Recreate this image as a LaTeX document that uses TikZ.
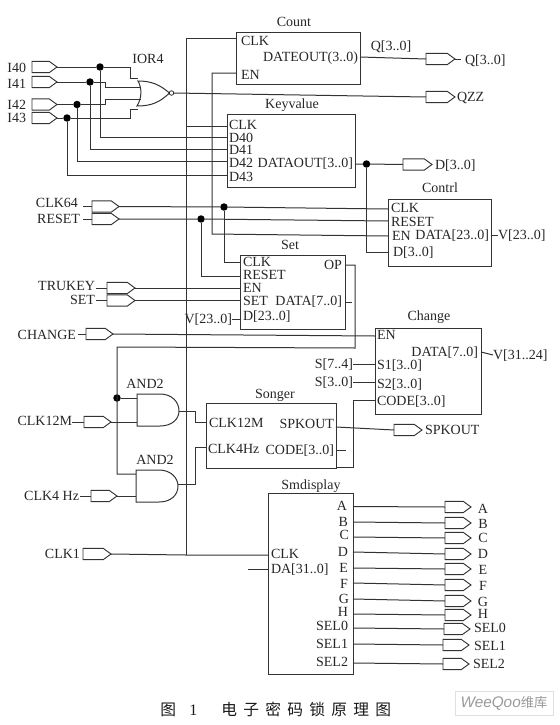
\documentclass[tikz,border=0pt]{standalone}
\usepackage{fontspec}
\setmainfont{Liberation Serif}
\newfontfamily\cjkf{Noto Sans CJK SC}
\newfontfamily\wmf{Liberation Sans}
\usetikzlibrary{shapes.symbols,calc}
\tikzset{
  wire/.style={draw=black!80,line width=0.75pt,line join=miter},
  blockbox/.style={draw=black!80,line width=0.75pt,rectangle,inner sep=0pt,outer sep=0pt},
  pinst/.style={draw=black!80,line width=0.7pt,shape=signal,signal to=east,signal pointer angle=72,inner sep=0pt,outer sep=0pt,minimum height=8.4pt,anchor=west},
  dotst/.style={circle,fill=black,inner sep=0pt,outer sep=0pt,minimum size=5.6pt},
  txt/.style={inner sep=0pt,outer sep=0pt,text height=6.8pt,text depth=0pt,font=\fontsize{10.5}{12}\selectfont,text=black!85},
  ltxt/.style={txt,anchor=west},
  rtxt/.style={txt,anchor=east},
  ctxt/.style={txt,anchor=center}
}
\newcommand{\blkx}[5]{\node[blockbox,minimum width={(#4-#2)*0.75pt},minimum height={(#5-#3)*0.75pt}] (#1) at ({(#2+#4)/2},{(#3+#5)/2}) {};}
\newcommand{\pinx}[4]{\node[pinst,minimum width={(#3-#2)*0.75pt}] (#1) at (#2,#4) {};}
\newcommand{\Ltx}[4]{\node[ltxt] (#1) at (#2,#3) {#4};}
\newcommand{\Rtx}[4]{\node[rtxt] (#1) at (#2,#3) {#4};}
\newcommand{\Ctx}[4]{\node[ctxt] (#1) at (#2,#3) {#4};}
\newcommand{\juncx}[3]{\node[dotst] (#1) at (#2,#3) {};}
\newcommand{\cpx}[3]{\coordinate (#1) at (#2,#3);}
\begin{document}
\begin{tikzpicture}[x=0.75pt,y=-0.75pt]
\useasboundingbox (0,0) rectangle (560,725);
% input pins
\pinx{pI40}{32}{57}{67}\Rtx{tI40}{26}{68}{I40}
\pinx{pI41}{32}{57}{82}\Rtx{tI41}{26}{84}{I41}
\pinx{pI42}{32}{57}{104.5}\Rtx{tI42}{26}{105}{I42}
\pinx{pI43}{32}{57}{118}\Rtx{tI43}{26}{118}{I43}
\pinx{pCLK64}{92}{119}{206.5}\Rtx{tCLK64}{78}{203}{CLK64}
\pinx{pRESET}{92}{119}{219}\Rtx{tRESET}{80}{219}{RESET}
\pinx{pTRUKEY}{107}{135}{288}\Rtx{tTRUKEY}{95}{286}{TRUKEY}
\pinx{pSET}{107}{135}{300.5}\Rtx{tSET}{95}{300}{SET}
\pinx{pCHANGE}{86}{113}{334}\Rtx{tCHANGE}{76}{335}{CHANGE}
\pinx{pCLK12}{84}{111}{422}\Rtx{tCLK12}{72}{421}{CLK12M}
\pinx{pCLK4}{91}{117}{496}\Rtx{tCLK4}{79}{496}{CLK4 Hz}
\pinx{pCLK1}{83}{111}{554}\Rtx{tCLK1}{80}{554}{CLK1}
% output pins
\pinx{pQ}{426}{455}{59}\Ltx{tQ}{465}{60}{Q[3..0]}
\pinx{pQZZ}{426}{455}{97}\Ltx{tQZZ}{457}{97}{QZZ}
\pinx{pD}{403}{432}{164.5}\Ltx{tD}{435}{165}{D[3..0]}
\pinx{pSPK}{394}{422}{430}\Ltx{tSPK}{425}{430}{SPKOUT}
\pinx{pA}{445}{471}{507}\Ctx{tA}{483}{509}{A}
\pinx{pB}{445}{471}{523}\Ctx{tB}{483}{524}{B}
\pinx{pC}{445}{471}{538}\Ctx{tC}{483}{538}{C}
\pinx{pDd}{445}{471}{554}\Ctx{tDd}{483}{554}{D}
\pinx{pE}{445}{471}{569}\Ctx{tE}{483}{570}{E}
\pinx{pF}{445}{471}{585}\Ctx{tF}{483}{586}{F}
\pinx{pG}{445}{471}{601}\Ctx{tG}{483}{602}{G}
\pinx{pH}{445}{471}{615}\Ctx{tH}{483}{614}{H}
\pinx{pS0}{444}{470}{629}\Ltx{tS0}{474}{628}{SEL0}
\pinx{pS1}{443}{469}{645}\Ltx{tS1}{474}{646}{SEL1}
\pinx{pS2}{443}{469}{664}\Ltx{tS2}{473}{664}{SEL2}
% blocks
\blkx{count}{236}{32}{360}{84}
\Ctx{tCount}{294}{22}{Count}
\Ltx{cCLK}{241}{41}{CLK}\Rtx{cOUT}{358}{57}{DATEOUT(3..0)}\Ltx{cEN}{241}{75}{EN}
\blkx{key}{227}{114}{355}{187}
\Ctx{tKey}{292}{104}{Keyvalue}
\Ltx{kCLK}{229}{125}{CLK}\Ltx{kD0}{229}{138}{D40}\Ltx{kD1}{229}{150}{D41}\Ltx{kD2}{229}{163}{D42}\Ltx{kD3}{229}{177}{D43}
\Rtx{kOUT}{353}{163}{DATAOUT[3..0]}
\blkx{ctr}{388}{199}{491}{266}
\Ctx{tCtr}{440}{188}{Contrl}
\Ltx{ctCLK}{391}{208}{CLK}\Ltx{ctRS}{391}{222}{RESET}\Ltx{ctEN}{392}{236}{EN}\Ltx{ctD}{393}{252}{D[3..0]}
\Rtx{ctOUT}{489}{235}{DATA[23..0]}\Ltx{ctV}{498}{235}{V[23..0]}
\blkx{set}{240}{255}{345}{329}
\Ctx{tSetb}{290}{245}{Set}
\Ltx{sCLK}{243}{262}{CLK}\Ltx{sRS}{243}{275}{RESET}\Ltx{sEN}{243}{288}{EN}\Ltx{sSET}{243}{301}{SET}\Ltx{sD}{243}{316}{D[23..0]}
\Rtx{sOP}{342}{265}{OP}\Rtx{sDATA}{342}{301}{DATA[7..0]}
\Rtx{tV23}{232}{319}{V[23..0]}
\blkx{chg}{375}{328}{481}{414}
\Ctx{tChg}{429}{316}{Change}
\Ltx{chEN}{377}{335}{EN}\Ltx{chS1}{377}{365}{S1[3..0]}\Ltx{chS2}{377}{384}{S2[3..0]}\Ltx{chC}{377}{401}{CODE[3..0]}
\Rtx{chD}{478}{352}{DATA[7..0]}\Ltx{chV}{493}{355}{V[31..24]}
\Rtx{tS74}{353}{364}{S[7..4]}\Rtx{tS30}{353}{382}{S[3..0]}
\blkx{son}{206}{403}{336}{468}
\Ctx{tSon}{275}{394}{Songer}
\Ltx{soA}{209}{423}{CLK12M}\Ltx{soB}{208}{449}{CLK4Hz}\Rtx{soC}{334}{424}{SPKOUT}\Rtx{soD}{334}{450}{CODE[3..0]}
\blkx{smd}{268}{493}{353}{674}
\Ctx{tSmd}{311}{485}{Smdisplay}
\Ltx{smC}{271}{554}{CLK}\Ltx{smD}{271}{569}{DA[31..0]}
\Rtx{mA}{347}{506}{A}\Rtx{mB}{348}{522}{B}\Rtx{mC}{349}{535}{C}\Rtx{mD}{348}{552}{D}\Rtx{mE}{348}{568}{E}\Rtx{mF}{348}{584}{F}\Rtx{mG}{349}{599}{G}\Rtx{mH}{348}{612}{H}
\Rtx{mS0}{348}{626}{SEL0}\Rtx{mS1}{348}{644}{SEL1}\Rtx{mS2}{348}{662}{SEL2}
% gates
\Ctx{tIOR}{148}{59}{IOR4}
\Ctx{tA1}{145}{384}{AND2}
\Ctx{tA2}{155}{460}{AND2}
\draw[wire] (138,81) .. controls (142,88) and (142,98) .. (137,106) .. controls (152,106) and (160,102) .. (169.5,93) .. controls (160,85) and (152,81) .. (138,81) -- cycle;
\node[draw=black!85,line width=0.6pt,circle,inner sep=0pt,outer sep=0pt,minimum size=3.4pt,fill=white] (nor) at (171.5,93) {};
\draw[wire] (137,394) -- (160,394) .. controls (172,394) and (179,402) .. (179,411) .. controls (179,419) and (172,426) .. (160,426) -- (137,426) -- cycle;
\draw[wire] (136,470) -- (159,470) .. controls (171,470) and (178,478) .. (178,486) .. controls (178,495) and (171,502) .. (159,502) -- (136,502) -- cycle;
\cpx{a1o}{179}{411}\cpx{a2o}{178}{484}
\cpx{a1i}{137}{398}\cpx{a1j}{137}{422}\cpx{a2i}{136}{474}\cpx{a2j}{136}{496}
% junctions
\juncx{j40}{100}{67}\juncx{j41}{90}{82}\juncx{j42}{77}{104.5}\juncx{j43}{67}{118}
\juncx{j64}{224}{207}\juncx{jRS}{201}{219}\juncx{jK}{366.5}{164}\juncx{jAnd}{117}{398}
% port coordinates
\cpx{n1}{138}{78}\cpx{n2}{140.5}{87}\cpx{n3}{141}{99}\cpx{n4}{137.5}{109}
\cpx{pcC}{236}{38}\cpx{pcE}{236}{73}\cpx{pkC}{227}{126}
\cpx{pk0}{227}{137}\cpx{pk1}{227}{149.5}\cpx{pk2}{227}{161.5}\cpx{pk3}{227}{175}
\cpx{pcO}{360}{57}\cpx{pkO}{355}{164}
\cpx{ptC}{388}{209}\cpx{ptR}{388}{221}\cpx{ptE}{388}{236}\cpx{ptD}{388}{252}
\cpx{psC}{240}{262}\cpx{psR}{240}{276}\cpx{psE}{240}{288}\cpx{psS}{240}{300.5}\cpx{psD}{240}{319}
\cpx{psO}{345}{265}\cpx{psA}{345}{302}
\cpx{phE}{375}{336}\cpx{ph1}{375}{364}\cpx{ph2}{375}{382}\cpx{ph3}{375}{400}
\cpx{poA}{206}{422}\cpx{poB}{206}{447}\cpx{poC}{336}{427}\cpx{poD}{336}{450}\cpx{poE}{336}{467}
\cpx{pmC}{268}{555}\cpx{pmD}{268}{569}
\cpx{busT}{186}{38}\cpx{busB}{186}{555}\cpx{busK}{186}{126}
% wires
\draw[wire] (pI40.east) -- (j40) -- (130,67) -- (130,78) -- (n1);
\draw[wire] (pI41.east) -- (j41) -- (105,82) -- (105,87) -- (n2);
\draw[wire] (pI42.east) -- (j42) -- (105,104.5) -- (105,99) -- (n3);
\draw[wire] (pI43.east) -- (j43) -- (130,118) -- (130,109) -- (n4);
\draw[wire] (j40) -- (100,137) -- (pk0);
\draw[wire] (j41) -- (90,149.5) -- (pk1);
\draw[wire] (j42) -- (77,161.5) -- (pk2);
\draw[wire] (j43) -- (67,175) -- (pk3);
\draw[wire] (pcC) -- (busT) -- (busB);
\draw[wire] (busK) -- (pkC);
\draw[wire] (pcE) -- (212,73) -- (212,234) -- (ptE);
\draw[wire] (nor.east) -- (pQZZ.west);
\draw[wire] (pcO) -- (pQ.west);
\draw[wire] (pQ.east) -- ++(6,0);
\Ctx{tQa}{391}{46}{Q[3..0]}
\draw[wire] (pkO) -- (jK) -- (pD.west);
\draw[wire] (jK) -- (366.5,252) -- (ptD);
\draw[wire] (pCLK64.west) -- ++(-9,0);
\draw[wire] (pRESET.west) -- ++(-9,0);
\draw[wire] (pTRUKEY.west) -- ++(-11,0);
\draw[wire] (pSET.west) -- ++(-11,0);
\draw[wire] (pCHANGE.west) -- ++(-8,0);
\draw[wire] (pCLK12.west) -- ++(-12,0);
\draw[wire] (pCLK4.west) -- ++(-11,0);
\draw[wire] (pCLK64.east) -- (j64) -- (ptC);
\draw[wire] (pRESET.east) -- (jRS) -- (ptR);
\draw[wire] (j64) -- (224,262) -- (psC);
\draw[wire] (jRS) -- (201,276) -- (psR);
\draw[wire] (pTRUKEY.east) -- (psE);
\draw[wire] (pSET.east) -- (psS);
\draw[wire] (psD) -- (tV23.east);
\draw[wire] (psA) -- ++(7,0);
\draw[wire] (psO) -- (355,265) -- (355,348) -- (117,347) -- (117,474) -- (a2i);
\draw[wire] (jAnd) -- (a1i);
\draw[wire] (pCHANGE.east) -- (phE);
\draw[wire] (pCLK12.east) -- (a1j);
\draw[wire] (pCLK4.east) -- (a2j);
\draw[wire] (a1o) -- (195,411) -- (195,422) -- (poA);
\draw[wire] (a2o) -- (195,484) -- (195,447) -- (poB);
\draw[wire] (pCLK1.east) -- (busB) -- (pmC);
\draw[wire] (pmD) -- ++(-20,0);
\draw[wire] (ph1) -- (tS74.east);
\draw[wire] (ph2) -- (tS30.east);
\draw[wire] (ph3) -- (353,400) -- (353,467) -- (poE);
\draw[wire] (poC) -- (pSPK.west);
\draw[wire] (poD) -- ++(10,0);
\draw[wire] (ctr.east |- ctOUT) -- (ctV.west);
\draw[wire] (chg.east |- chD) -- (chV.west);
\foreach \n/\y in {pA/506.5,pB/522,pC/537,pDd/552,pE/568,pF/583,pG/599,pH/614,pS0/628,pS1/644,pS2/663}{
  \draw[wire] (353,\y) -- (\n.west);
}
% caption
\node[anchor=west,inner sep=0pt,font=\cjkf\fontsize{11.8}{13}\selectfont,text=black!90] (cap) at (160,709) {图\hspace{10pt}{\fontsize{12}{13}\selectfont\rmfamily 1}\hspace{18pt}电\hspace{4.7pt}子\hspace{4.7pt}密\hspace{4.7pt}码\hspace{4.7pt}锁\hspace{4.7pt}原\hspace{4.7pt}理\hspace{4.7pt}图};
% watermark
\node[draw=black!12,line width=0.6pt,rectangle,inner sep=0pt,minimum width=73.5pt,minimum height=18.5pt,text=black!40] (wm) at (504,703.5) {{\wmf\itshape\fontsize{11.5}{13}\selectfont WeeQoo}{\cjkf\fontsize{10}{13}\selectfont 维库}};
\end{tikzpicture}
\end{document}
